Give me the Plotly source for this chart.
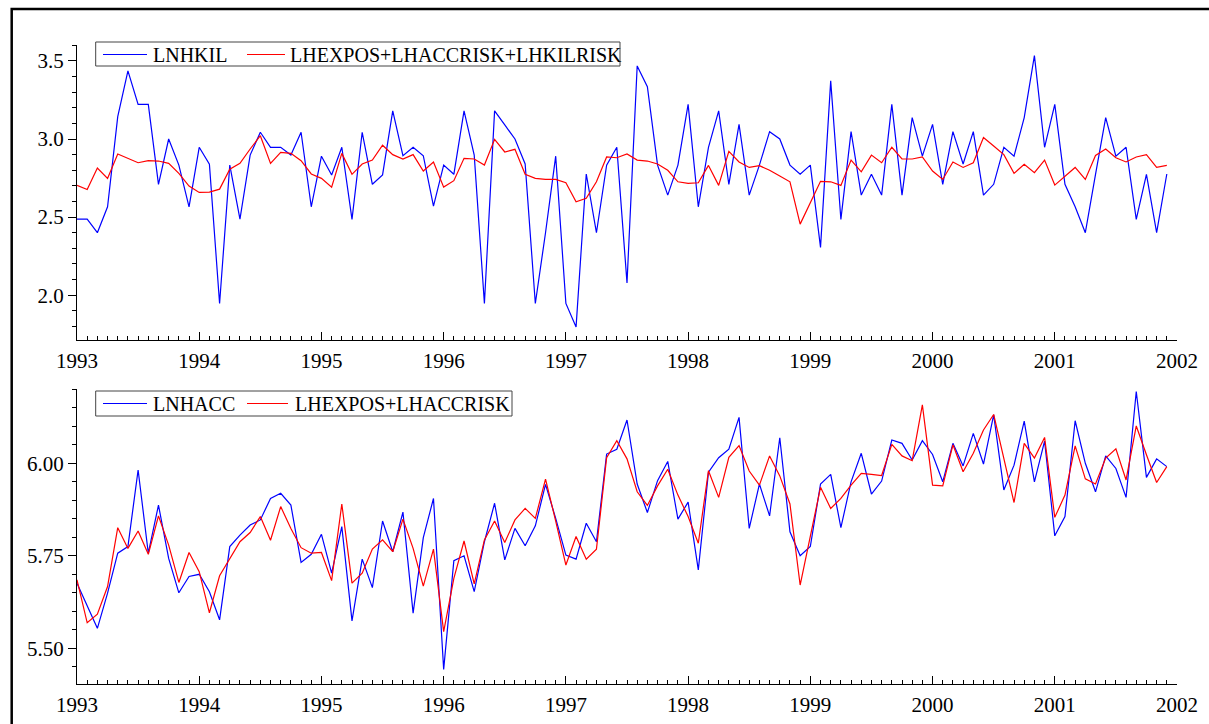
import plotly.graph_objects as go

# Monthly observations, January 1993 .. December 2001
start_year = 1993
n_months = 108
t = [start_year + i / 12 for i in range(n_months)]

lnhkil = [
    2.487, 2.487, 2.400, 2.566, 3.143, 3.436, 3.222, 3.222, 2.710, 3.000, 2.833, 2.566,
    2.947, 2.838, 1.947, 2.833, 2.487, 2.897, 3.043, 2.947, 2.947, 2.897, 3.043, 2.566,
    2.890, 2.770, 2.947, 2.485, 3.043, 2.710, 2.770, 3.180, 2.893, 2.947, 2.893, 2.570,
    2.833, 2.774, 3.180, 2.897, 1.947, 3.180, 3.090, 3.000, 2.840, 1.947, 2.400, 2.890,
    1.947, 1.797, 2.776, 2.400, 2.833, 2.947, 2.079, 3.468, 3.335, 2.833, 2.641, 2.833,
    3.222, 2.566, 2.947, 3.180, 2.709, 3.094, 2.641, 2.833, 3.047, 3.000, 2.833, 2.774,
    2.833, 2.306, 3.372, 2.485, 3.047, 2.641, 2.774, 2.641, 3.222, 2.641, 3.137, 2.890,
    3.094, 2.709, 3.047, 2.840, 3.047, 2.641, 2.710, 2.947, 2.890, 3.137, 3.534, 2.947,
    3.222, 2.710, 2.566, 2.400, 2.774, 3.137, 2.890, 2.947, 2.485, 2.774, 2.400, 2.776,
]

fit_kil = [
    2.703, 2.677, 2.814, 2.748, 2.904, 2.876, 2.848, 2.861, 2.859, 2.844, 2.780, 2.699,
    2.658, 2.660, 2.679, 2.806, 2.844, 2.936, 3.021, 2.844, 2.915, 2.908, 2.861, 2.776,
    2.748, 2.692, 2.908, 2.774, 2.840, 2.865, 2.960, 2.900, 2.872, 2.900, 2.795, 2.853,
    2.692, 2.733, 2.876, 2.872, 2.833, 2.998, 2.917, 2.934, 2.774, 2.748, 2.741, 2.741,
    2.720, 2.598, 2.620, 2.726, 2.885, 2.880, 2.904, 2.865, 2.859, 2.840, 2.800, 2.726,
    2.716, 2.720, 2.831, 2.703, 2.921, 2.853, 2.818, 2.829, 2.800, 2.763, 2.726, 2.455,
    2.592, 2.729, 2.726, 2.703, 2.865, 2.790, 2.897, 2.848, 2.947, 2.872, 2.872, 2.885,
    2.795, 2.741, 2.853, 2.818, 2.848, 3.009, 2.955, 2.900, 2.780, 2.838, 2.784, 2.865,
    2.705, 2.759, 2.818, 2.741, 2.895, 2.936, 2.880, 2.853, 2.885, 2.900, 2.818, 2.831,
]

lnhacc = [
    5.676, 5.617, 5.554, 5.649, 5.757, 5.775, 5.982, 5.757, 5.887, 5.743, 5.650, 5.694,
    5.700, 5.653, 5.577, 5.775, 5.806, 5.833, 5.847, 5.905, 5.919, 5.887, 5.732, 5.754,
    5.808, 5.703, 5.829, 5.574, 5.741, 5.664, 5.844, 5.761, 5.868, 5.595, 5.799, 5.905,
    5.443, 5.737, 5.750, 5.653, 5.788, 5.892, 5.739, 5.824, 5.777, 5.831, 5.943, 5.851,
    5.752, 5.741, 5.838, 5.788, 6.025, 6.038, 6.117, 5.944, 5.867, 5.953, 6.005, 5.849,
    5.895, 5.712, 5.976, 6.015, 6.038, 6.124, 5.824, 5.944, 5.858, 6.069, 5.815, 5.750,
    5.775, 5.944, 5.970, 5.826, 5.950, 6.027, 5.917, 5.952, 6.063, 6.054, 6.009, 6.061,
    6.024, 5.950, 6.054, 5.993, 6.081, 5.998, 6.131, 5.928, 5.995, 6.114, 5.950, 6.060,
    5.804, 5.856, 6.115, 6.000, 5.923, 6.020, 5.986, 5.908, 6.194, 5.962, 6.012, 5.991,
]

fit_acc = [
    5.685, 5.569, 5.592, 5.667, 5.826, 5.770, 5.817, 5.754, 5.858, 5.779, 5.678, 5.759,
    5.707, 5.596, 5.696, 5.743, 5.788, 5.813, 5.856, 5.792, 5.883, 5.824, 5.772, 5.757,
    5.759, 5.683, 5.890, 5.676, 5.703, 5.768, 5.793, 5.761, 5.849, 5.770, 5.668, 5.768,
    5.545, 5.689, 5.790, 5.674, 5.793, 5.844, 5.786, 5.847, 5.878, 5.851, 5.957, 5.844,
    5.725, 5.802, 5.741, 5.768, 6.015, 6.061, 6.012, 5.923, 5.886, 5.939, 5.984, 5.914,
    5.856, 5.784, 5.980, 5.908, 6.016, 6.048, 5.979, 5.941, 6.020, 5.966, 5.890, 5.671,
    5.802, 5.935, 5.878, 5.905, 5.941, 5.973, 5.970, 5.967, 6.051, 6.020, 6.007, 6.158,
    5.941, 5.939, 6.050, 5.977, 6.027, 6.090, 6.132, 6.014, 5.894, 6.054, 6.014, 6.070,
    5.854, 5.914, 6.047, 5.958, 5.944, 6.014, 6.039, 5.955, 6.101, 6.023, 5.948, 5.991,
]

top_names = ["LNHKIL", "LHEXPOS+LHACCRISK+LHKILRISK"]
bottom_names = ["LNHACC", "LHEXPOS+LHACCRISK"]

W, H = 1209, 724
BLUE = "#0000ff"
RED = "#ff0000"
FONT = "Liberation Serif, Times New Roman, Times, serif"

fig = go.Figure()
fig.add_trace(go.Scatter(x=t, y=lnhkil, mode="lines", name=top_names[0],
                         line=dict(color=BLUE, width=1.2), xaxis="x", yaxis="y"))
fig.add_trace(go.Scatter(x=t, y=fit_kil, mode="lines", name=top_names[1],
                         line=dict(color=RED, width=1.2), xaxis="x", yaxis="y"))
fig.add_trace(go.Scatter(x=t, y=lnhacc, mode="lines", name=bottom_names[0],
                         line=dict(color=BLUE, width=1.2), xaxis="x2", yaxis="y2"))
fig.add_trace(go.Scatter(x=t, y=fit_acc, mode="lines", name=bottom_names[1],
                         line=dict(color=RED, width=1.2), xaxis="x2", yaxis="y2"))

xdom = [77 / W, 1177 / W]


def xaxis_cfg(anchor):
    return dict(
        domain=xdom, range=[1993, 2002], anchor=anchor, automargin=False,
        tickmode="linear", tick0=1993, dtick=1, tickformat="d",
        ticks="inside", ticklen=8, tickwidth=1, tickcolor="black",
        showline=True, linecolor="black", linewidth=1,
        showgrid=False, zeroline=False, ticklabelstandoff=2,
        tickfont=dict(family=FONT, size=21, color="black"),
        minor=dict(tick0=1993, dtick=1 / 12, ticks="inside", ticklen=4,
                   tickwidth=1, tickcolor="black", showgrid=False),
    )


def yaxis_cfg(anchor, dom, rng, dtick, tick0, fmt, mdtick):
    return dict(
        domain=dom, range=rng, anchor=anchor, automargin=False,
        tickmode="linear", tick0=tick0, dtick=dtick, tickformat=fmt,
        ticks="outside", ticklen=8, tickwidth=1, tickcolor="black",
        showline=True, linecolor="black", linewidth=1,
        showgrid=False, zeroline=False,
        tickfont=dict(family=FONT, size=21, color="black"),
        minor=dict(tick0=tick0, dtick=mdtick, ticks="outside", ticklen=4,
                   tickwidth=1, tickcolor="black", showgrid=False),
    )


def px(x):
    return x / W


def py(y):
    return 1 - y / H


# Hand-built legend boxes (matching the compact boxed legends of the original)
shapes = [dict(type="rect", xref="paper", yref="paper",
               x0=px(11.7), x1=1.1, y0=-0.1, y1=py(9),
               line=dict(color="black", width=2.5), fillcolor="rgba(0,0,0,0)", layer="above")]
annotations = []


def add_legend(box, cy, names, sample_x, text_x):
    x0, y0, x1, y1 = box
    shapes.append(dict(type="rect", xref="paper", yref="paper",
                       x0=px(x0), x1=px(x1), y0=py(y1), y1=py(y0),
                       line=dict(color="#444444", width=1), fillcolor="white", layer="above"))
    for name, color, (sx0, sx1), tx in zip(names, [BLUE, RED], sample_x, text_x):
        shapes.append(dict(type="line", xref="paper", yref="paper",
                           x0=px(sx0), x1=px(sx1), y0=py(cy), y1=py(cy),
                           line=dict(color=color, width=1.2), layer="above"))
        annotations.append(dict(text=name, xref="paper", yref="paper",
                                x=px(tx), y=py(cy), xanchor="left", yanchor="middle",
                                showarrow=False, borderpad=0,
                                font=dict(family=FONT, size=20, color="black")))


add_legend((95.7, 42, 620, 66), 54.5, top_names, [(103, 147), (247, 285)], [152, 289])
add_legend((95.7, 391, 512, 416), 403.5, bottom_names, [(103, 147), (247, 288)], [152, 294])

fig.update_layout(
    width=W, height=H,
    margin=dict(l=0, r=0, t=0, b=0),
    paper_bgcolor="white", plot_bgcolor="white",
    font=dict(family=FONT, size=21, color="black"),
    xaxis=xaxis_cfg("y"),
    yaxis=yaxis_cfg("x", [py(340), py(45)], [1.7132, 3.6018], 0.5, 0, ".1f", 0.1),
    xaxis2=xaxis_cfg("y2"),
    yaxis2=yaxis_cfg("x2", [py(684), py(389)], [5.4035, 6.2008], 0.25, 5.5, ".2f", 0.05),
    shapes=shapes,
    annotations=annotations,
    showlegend=False,
)

fig.write_html("out.html",
               config={"displayModeBar": False},
               post_script="document.body.style.margin='0';document.body.style.overflow='hidden';")
